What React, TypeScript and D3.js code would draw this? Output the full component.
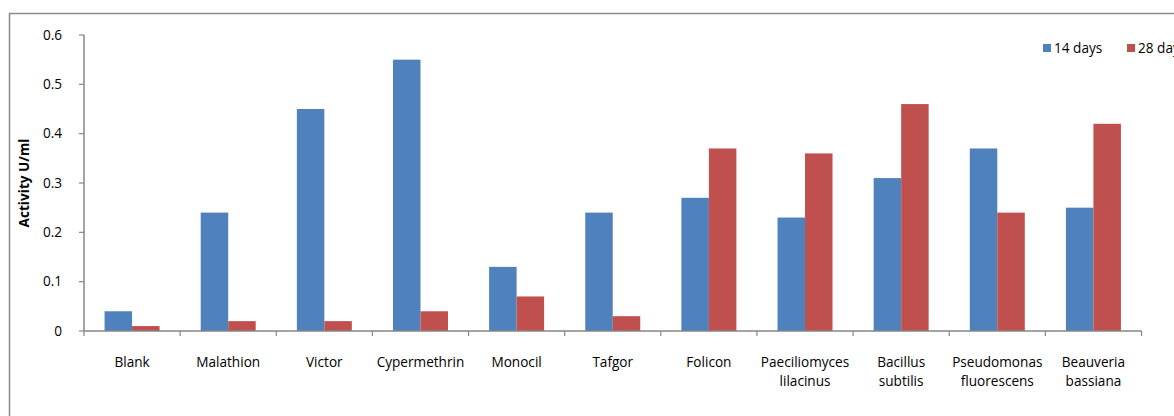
import React from "react";
import * as d3 from "d3";

const categories: string[][] = [
  ["Blank"],
  ["Malathion"],
  ["Victor"],
  ["Cypermethrin"],
  ["Monocil"],
  ["Tafgor"],
  ["Folicon"],
  ["Paeciliomyces", "lilacinus"],
  ["Bacillus", "subtilis"],
  ["Pseudomonas", "fluorescens"],
  ["Beauveria", "bassiana"],
];
const days14 = [0.04, 0.24, 0.45, 0.55, 0.13, 0.24, 0.27, 0.23, 0.31, 0.37, 0.25];
const days28 = [0.01, 0.02, 0.02, 0.04, 0.07, 0.03, 0.37, 0.36, 0.46, 0.24, 0.42];
const seriesNames = ["14 days", "28 days"];
const yTicks = [0, 0.1, 0.2, 0.3, 0.4, 0.5, 0.6];

const colors = ["#4F81BD", "#C0504D"];
const W = 1174;
const H = 416;
const FONT = "'Open Sans', 'Noto Sans', sans-serif";
const FS = 13.6;

export default function App() {
  const left = 84;
  const right = 1141.5;
  const top = 35;
  const bottom = 331;
  const keys = categories.map((_, i) => String(i));
  const x = d3.scaleBand<string>().domain(keys).range([left, right]).paddingInner(0).paddingOuter(0);
  const y = d3.scaleLinear().domain([0, 0.6]).range([bottom, top]);
  const bw = x.bandwidth();
  const barW = bw * 0.286;
  const groupOff = (bw - 2 * barW) / 2;
  const series = [days14, days28];
  const axisColor = "#868686";

  return (
    <svg
      width={W}
      height={H}
      style={{ position: "absolute", left: 0, top: 0, background: "#fff" }}
      fontFamily={FONT}
    >
      <rect x={0} y={0} width={W} height={H} fill="#fff" />
      <rect x={9.5} y={13.5} width={1300} height={600} fill="none" stroke="#8a8a8a" strokeWidth={1.5} />
      {series.map((vals, s) =>
        vals.map((v, i) => (
          <rect
            key={`${s}-${i}`}
            x={(x(String(i)) as number) + groupOff + s * barW}
            y={y(v)}
            width={barW}
            height={bottom - y(v)}
            fill={colors[s]}
          />
        ))
      )}
      {/* y axis */}
      <line x1={left} x2={left} y1={top} y2={bottom} stroke={axisColor} strokeWidth={1.5} />
      {yTicks.map((t) => (
        <g key={t}>
          <line x1={left - 5} x2={left} y1={y(t)} y2={y(t)} stroke={axisColor} strokeWidth={1.2} />
          <text x={62} y={y(t)} dy="0.35em" textAnchor="end" fontSize={FS} fill="#000">
            {t === 0 ? "0" : t.toFixed(1)}
          </text>
        </g>
      ))}
      {/* x axis */}
      <line x1={left} x2={right} y1={bottom} y2={bottom} stroke={axisColor} strokeWidth={1.5} />
      {keys.concat(["end"]).map((k, i) => {
        const xx = i < keys.length ? (x(k) as number) : right;
        return <line key={k} x1={xx} x2={xx} y1={bottom} y2={bottom + 5} stroke={axisColor} strokeWidth={1.2} />;
      })}
      {categories.map((lines, i) => (
        <text
          key={i}
          x={(x(String(i)) as number) + bw / 2}
          y={367}
          textAnchor="middle"
          fontSize={FS}
          fill="#000"
        >
          {lines.map((l, j) => (
            <tspan key={j} x={(x(String(i)) as number) + bw / 2} dy={j === 0 ? 0 : 19}>
              {l}
            </tspan>
          ))}
        </text>
      ))}
      {/* y title */}
      <text
        transform={`translate(29, ${(top + bottom) / 2}) rotate(-90)`}
        textAnchor="middle"
        fontSize={FS}
        fontWeight="bold"
        fill="#000"
      >
        Activity U/ml
      </text>
      {/* legend */}
      {seriesNames.map((n, s) => (
        <g key={n} transform={`translate(${1043 + s * 84}, 44)`}>
          <rect x={0} y={0} width={8} height={8} fill={colors[s]} />
          <text x={11} y={4} dy="0.35em" fontSize={FS} fill="#000">
            {n}
          </text>
        </g>
      ))}
    </svg>
  );
}
